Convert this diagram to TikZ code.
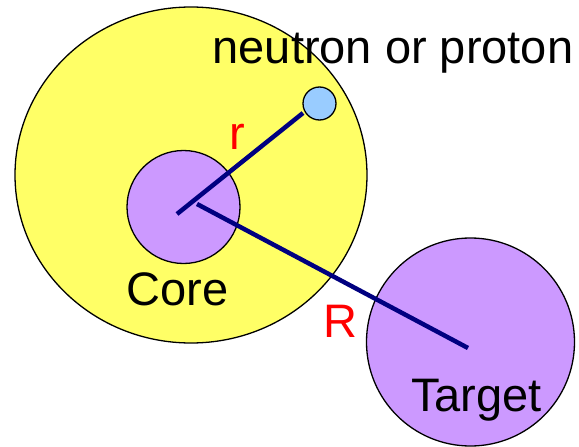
\documentclass[tikz,border=0pt]{standalone}
\usepackage{fontspec}
\setmainfont{Liberation Sans}
\definecolor{halo}{HTML}{FFFF66}
\definecolor{corepurple}{HTML}{CC99FF}
\definecolor{nucleon}{HTML}{99CCFF}
\definecolor{navyline}{HTML}{000080}
\begin{document}
\begin{tikzpicture}[x=1pt,y=-1pt,
  ball/.style={draw=black,line width=1.3pt},
  vec/.style={draw=navyline,line width=4.5pt},
  lbl/.style={anchor=base,inner sep=0pt,font=\fontsize{47}{56}\selectfont},
  redlbl/.style={lbl,text=red}]
\useasboundingbox (0,0) rectangle (579,447);
% shapes
\path[ball,fill=halo] (191,175) ellipse [x radius=176, y radius=168];
\node[ball,fill=corepurple,circle,minimum size=113pt,inner sep=0pt] (core) at (183.5,207) {};
\node[ball,fill=nucleon,circle,minimum size=33pt,inner sep=0pt] (nuc) at (319.5,103.5) {};
\node[ball,fill=corepurple,circle,minimum size=208pt,inner sep=0pt] (target) at (470.5,342) {};
% connector ends
\coordinate (rstart) at (177,214);
\coordinate (rend) at (303,113);
\coordinate (Rstart) at (197,204);
\coordinate (Rend) at (468,348);
\draw[vec] (rstart) -- (rend);
\draw[vec] (Rstart) -- (Rend);
% labels
\node[lbl] (ntxt) at (393,63) {neutron or proton};
\node[lbl] (ctxt) at (177.5,305) {Core};
\node[lbl] (ttxt) at (476.5,411) {Target};
\node[redlbl] (rlbl) at (237,149) {r};
\node[redlbl] (Rlbl) at (340,337) {R};
\end{tikzpicture}
\end{document}
